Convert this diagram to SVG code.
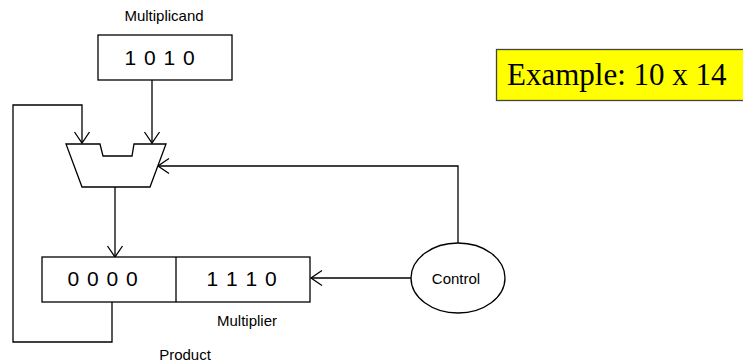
<svg xmlns="http://www.w3.org/2000/svg" width="743" height="363" viewBox="0 0 743 363">
  <style>
    .box { fill: #ffffff; stroke: #000000; stroke-width: 1.3; }
    .wire { fill: none; stroke: #000000; stroke-width: 1.3; }
    .lbl { font-family: "Liberation Sans", Arial, sans-serif; font-size: 15px; fill: #000000; text-anchor: middle; }
    .bits { font-family: "Liberation Sans", Arial, sans-serif; font-size: 21px; fill: #000000; text-anchor: middle; letter-spacing: 1px; }
  </style>
  <defs>
    <marker id="arrow" markerUnits="userSpaceOnUse" markerWidth="24" markerHeight="24" viewBox="-12 -12 24 24" refX="0" refY="0" orient="auto" overflow="visible">
      <path d="M-11,-7.5 L0,0 L-11,7.5" fill="none" stroke="#000000" stroke-width="1.3"/>
    </marker>
  </defs>

  <!-- connectors -->
  <g id="connectors">
    <path class="wire" d="M152,80 V143" marker-end="url(#arrow)"/>
    <path class="wire" d="M112,302 V342 H13 V105 H82 V143" marker-end="url(#arrow)"/>
    <path class="wire" d="M458,243 V166 H158" marker-end="url(#arrow)"/>
    <path class="wire" d="M115,187 V257" marker-end="url(#arrow)"/>
    <path class="wire" d="M411,278 H311" marker-end="url(#arrow)"/>
  </g>

  <!-- multiplicand register -->
  <g id="multiplicand">
    <text class="lbl" x="164" y="21">Multiplicand</text>
    <rect class="box" x="98" y="35" width="134" height="45"/>
    <text class="bits" x="160" y="65">1 0 1 0</text>
  </g>

  <!-- adder -->
  <g id="alu">
    <polygon class="box" points="66,144 100,144 103,156 132,156 134,144 166,144 150,187 82,187"/>
  </g>

  <!-- product / multiplier register -->
  <g id="product">
    <rect class="box" x="42" y="257" width="268" height="45"/>
    <line class="wire" x1="176" y1="257" x2="176" y2="302"/>
    <text class="bits" x="103" y="286">0 0 0 0</text>
    <text class="bits" x="242" y="286">1 1 1 0</text>
    <text class="lbl" x="247" y="326">Multiplier</text>
    <text class="lbl" x="185" y="360">Product</text>
  </g>

  <!-- control unit -->
  <g id="control">
    <ellipse class="box" cx="458" cy="278" rx="47" ry="35"/>
    <text class="lbl" x="456" y="284">Control</text>
  </g>

  <!-- example note -->
  <g id="example">
    <rect x="496.5" y="49.5" width="260" height="51" fill="#ffff00" stroke="#444444" stroke-width="1.3"/>
    <text x="507" y="85" font-family="'Liberation Serif', 'Times New Roman', serif" font-size="31" fill="#000000">Example: 10 x 14</text>
  </g>
</svg>
